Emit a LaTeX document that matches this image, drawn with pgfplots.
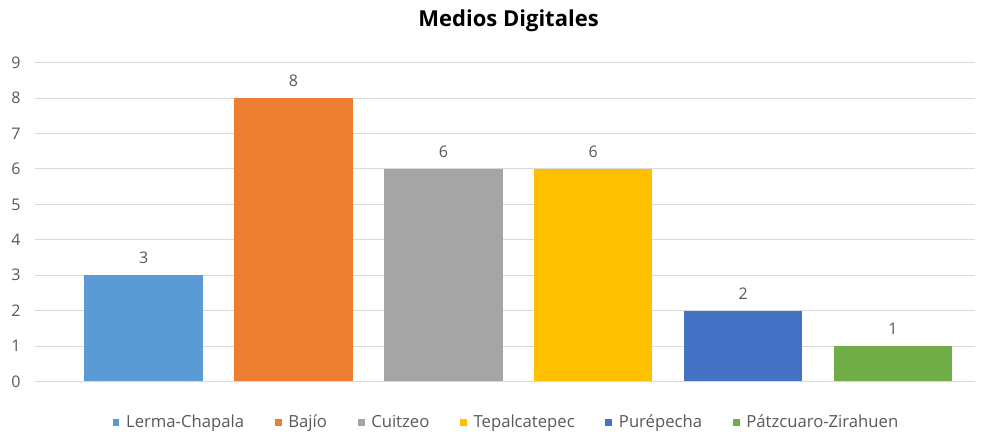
\documentclass[border=0pt]{standalone}
\usepackage{fontspec}
\setmainfont{Open Sans}
\usepackage{pgfplots}
\pgfplotsset{compat=1.18}

\definecolor{cLerma}{HTML}{5B9BD5}
\definecolor{cBajio}{HTML}{ED7D31}
\definecolor{cCuitzeo}{HTML}{A5A5A5}
\definecolor{cTepal}{HTML}{FFC000}
\definecolor{cPure}{HTML}{4472C4}
\definecolor{cPatz}{HTML}{70AD47}
\definecolor{gridgray}{HTML}{D9D9D9}
\definecolor{txtgray}{HTML}{595959}

\begin{document}
\begin{tikzpicture}
% fixed canvas matching the 991x433 reference
\path[use as bounding box] (0,0) rectangle (743pt,325pt);
\begin{axis}[
    at={(26pt,39pt)}, anchor=south west,
    scale only axis,
    width=705pt, height=239pt,
    ybar, bar width=0.79,
    xmin=-0.727, xmax=5.547,
    ymin=0, ymax=9,
    ytick={0,...,9},
    xtick=\empty,
    ymajorgrids,
    grid style={gridgray, line width=0.8pt},
    axis line style={draw=none},
    major tick length=0pt,
    tick label style={font=\fontsize{12}{14}\selectfont, text=txtgray},
    yticklabel style={xshift=-7pt},
    /pgf/number format/assume math mode=true,
    title={\bfseries Medios Digitales},
    title style={font=\fontsize{16.5}{20}\selectfont, text=black, at={(0.504,1.105)}, anchor=center},
    nodes near coords,
    every node near coord/.append style={font=\fontsize{12}{14}\selectfont, text=txtgray, yshift=5pt},
    legend columns=6,
    legend style={draw=none, at={(0.502,-0.128)}, anchor=center,
        font=\fontsize{12.5}{14}\selectfont, text=txtgray,
        /tikz/every odd column/.append style={column sep=3pt},
        /tikz/every even column/.append style={column sep=21pt}},
    legend image code/.code={\fill[#1] (0pt,-2.6pt) rectangle (5.2pt,2.6pt);},
]
\addplot[fill=cLerma, draw=none, bar shift=0pt] coordinates {(0,3)};
\addplot[fill=cBajio, draw=none, bar shift=0pt] coordinates {(1,8)};
\addplot[fill=cCuitzeo, draw=none, bar shift=0pt] coordinates {(2,6)};
\addplot[fill=cTepal, draw=none, bar shift=0pt] coordinates {(3,6)};
\addplot[fill=cPure, draw=none, bar shift=0pt] coordinates {(4,2)};
\addplot[fill=cPatz, draw=none, bar shift=0pt] coordinates {(5,1)};
\legend{Lerma-Chapala, Bajío, Cuitzeo, Tepalcatepec, Purépecha, Pátzcuaro-Zirahuen}
\end{axis}
\end{tikzpicture}
\end{document}
